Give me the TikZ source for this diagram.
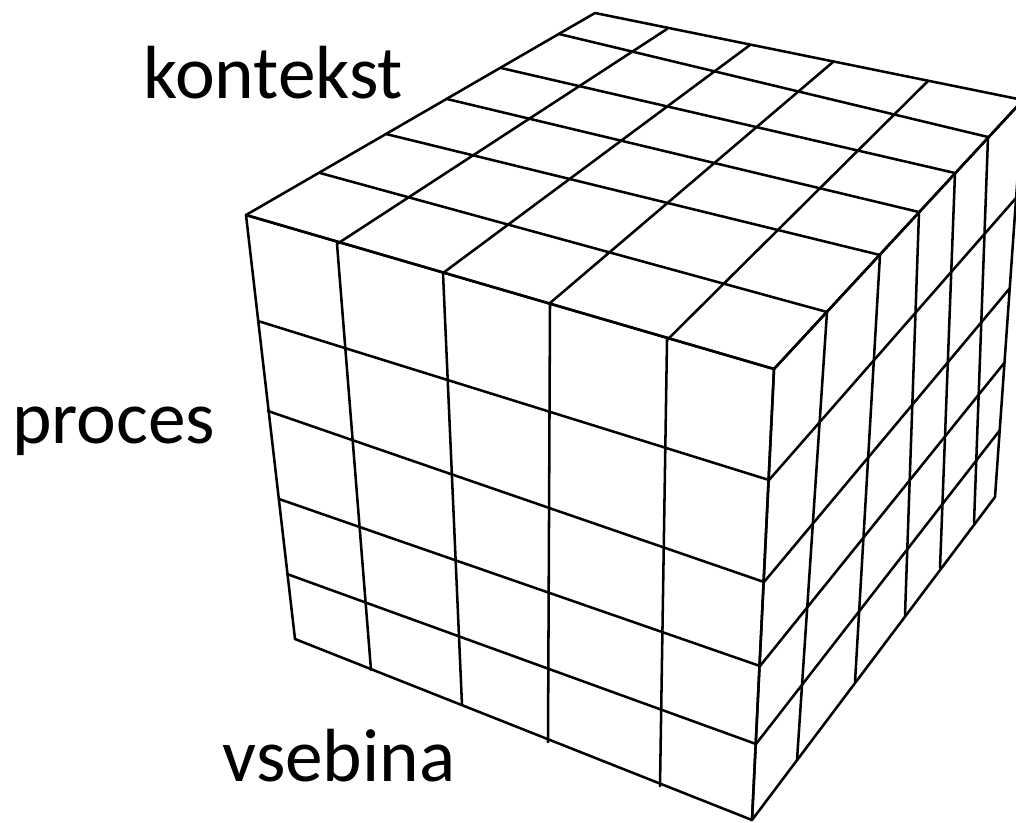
\documentclass[tikz,border=0pt]{standalone}
\usepackage{fontspec}
\setmainfont{Carlito}
\begin{document}
\begin{tikzpicture}[x=0.75pt,y=-0.75pt,
  gridline/.style={draw=black,line width=1.9pt,line cap=round,line join=round},
  label/.style={anchor=base west,inner sep=0pt,font=\fontsize{56.5}{60}\selectfont}]
\useasboundingbox (0,0) rectangle (1016,822);
\begin{scope}
\clip (0,0) rectangle (1016,822);
% front face: verticals
\foreach \xa/\ya/\xb/\yb in {246/215/295/639, 337/244/371/670, 443/273/462/705,
  550/303/548/742, 667/340/660/786, 774/369/752/820}
  {\draw[gridline] (\xa,\ya) -- (\xb,\yb);}
% front face: horizontals
\foreach \xa/\ya/\xb/\yb in {246/215/774/369, 258/321/769/480, 268/411/764/582,
  279/499/760/666, 287/574/756/744, 295/639/752/820}
  {\draw[gridline] (\xa,\ya) -- (\xb,\yb);}
% top face: front-to-back lines
\foreach \xa/\ya/\xb/\yb in {246/215/595/13, 337/244/667/29, 443/273/750/45,
  550/303/833/62, 667/340/928/81, 774/369/1023/100}
  {\draw[gridline] (\xa,\ya) -- (\xb,\yb);}
% top face: left-to-right lines
\foreach \xa/\ya/\xb/\yb in {246/215/774/369, 320/173/827/312, 386/134/880/255,
  447/99/919/212, 501/68/955/173, 559/34/988/137, 595/13/1023/100}
  {\draw[gridline] (\xa,\ya) -- (\xb,\yb);}
% right face: verticals
\foreach \xa/\ya/\xb/\yb in {774/369/752/820, 827/312/797/760, 880/255/855/682,
  919/212/905/615, 955/173/940/568, 988/137/974/523, 1023/100/995/497}
  {\draw[gridline] (\xa,\ya) -- (\xb,\yb);}
% right face: horizontals
\foreach \xa/\ya/\xb/\yb in {774/369/1023/100, 769/480/1016/198, 764/582/1010/288,
  760/666/1005/362, 756/744/1000/430, 752/820/995/497}
  {\draw[gridline] (\xa,\ya) -- (\xb,\yb);}
\end{scope}
\node[label] (kontekst) at (143,98) {kontekst};
\node[label] (proces) at (12,443) {proces};
\node[label] (vsebina) at (222,781) {vsebina};
\end{tikzpicture}
\end{document}
